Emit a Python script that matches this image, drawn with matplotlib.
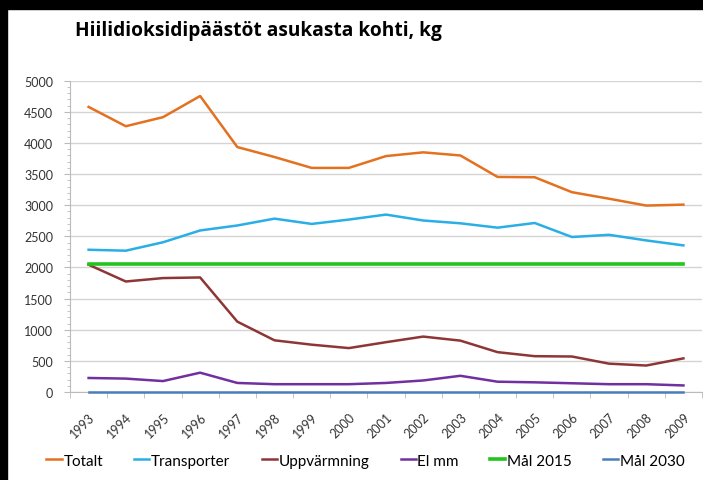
import numpy as np
import matplotlib
matplotlib.use("Agg")
import matplotlib.pyplot as plt
from matplotlib.ticker import MultipleLocator
from matplotlib.patches import Rectangle

plt.rcParams['font.family'] = ['Lato', 'DejaVu Sans']

# data
years = [str(y) for y in range(1993, 2010)]
totalt = [4580, 4270, 4415, 4755, 3935, 3775, 3600, 3600, 3790, 3850, 3800,
          3455, 3450, 3210, 3105, 2995, 3010]
transporter = [2285, 2270, 2405, 2595, 2675, 2785, 2700, 2770, 2850, 2755, 2710,
               2640, 2715, 2490, 2525, 2435, 2355]
uppvarmning = [2045, 1775, 1830, 1840, 1130, 830, 760, 705, 800, 890, 825,
               640, 575, 570, 455, 425, 540]
el_mm = [225, 215, 175, 310, 145, 125, 125, 125, 145, 185, 260,
         165, 155, 140, 125, 125, 105]
mal_2015 = [2060] * len(years)
mal_2030 = [0] * len(years)

series = [
    ("Totalt", totalt, "#E3711F"),
    ("Transporter", transporter, "#2AAEE6"),
    ("Uppvärmning", uppvarmning, "#8E3636"),
    ("El mm", el_mm, "#7030A0"),
    ("Mål 2015", mal_2015, "#22C41E"),
    ("Mål 2030", mal_2030, "#4A7EBB"),
]

fig = plt.figure(figsize=(7.03, 4.81), dpi=100)
ax = fig.add_axes([0.0996, 0.183, 0.899, 0.647])

x = np.arange(len(years))
for name, vals, col in series:
    lw = 2.6 if name == "Mål 2015" else 1.8
    ax.plot(x, vals, color=col, lw=lw, label=name, solid_joinstyle='round',
            clip_on=False, zorder=3)

ax.set_xlim(-0.5, len(years) - 0.5)
ax.set_ylim(0, 5000)
ax.yaxis.set_major_locator(MultipleLocator(500))
ax.yaxis.set_minor_locator(MultipleLocator(100))
ax.grid(axis='y', color='#D4D4D4', lw=1)
ax.set_axisbelow(True)

ax.set_xticks(x)
ax.set_xticklabels(years, rotation=45, ha='right', rotation_mode='anchor',
                   fontsize=9, color='#333333')
ax.set_xticks(np.arange(-0.5, len(years)), minor=True)
ax.tick_params(axis='x', which='major', length=0, pad=13)
ax.tick_params(axis='x', which='minor', length=4, color='#BBBBBB')
ax.tick_params(axis='y', which='major', length=4, color='#BBBBBB',
               labelsize=9, labelcolor='#333333', pad=8)
ax.tick_params(axis='y', which='minor', length=2, color='#BBBBBB')

for s in ['top', 'right']:
    ax.spines[s].set_visible(False)
ax.spines['left'].set_color('#BBBBBB')
ax.spines['bottom'].set_color('#BBBBBB')

fig.text(0.107, 0.935, "Hiilidioksidipäästöt asukasta kohti, kg",
         fontsize=13.8, fontweight='bold', va='center', ha='left',
         family=['Open Sans', 'DejaVu Sans'])

fig.legend(loc='center', bbox_to_anchor=(0.52, 0.04), ncol=6, frameon=False,
           fontsize=11, handlelength=1.0, handletextpad=0.1,
           columnspacing=2.05, borderaxespad=0)

# black border strips seen in the screenshot
fig.patches.append(Rectangle((0, 0.979), 1, 0.021, transform=fig.transFigure,
                             color='black', zorder=10))
fig.patches.append(Rectangle((0, 0), 0.01, 1, transform=fig.transFigure,
                             color='black', zorder=10))

fig.savefig("out.png", dpi=100)
